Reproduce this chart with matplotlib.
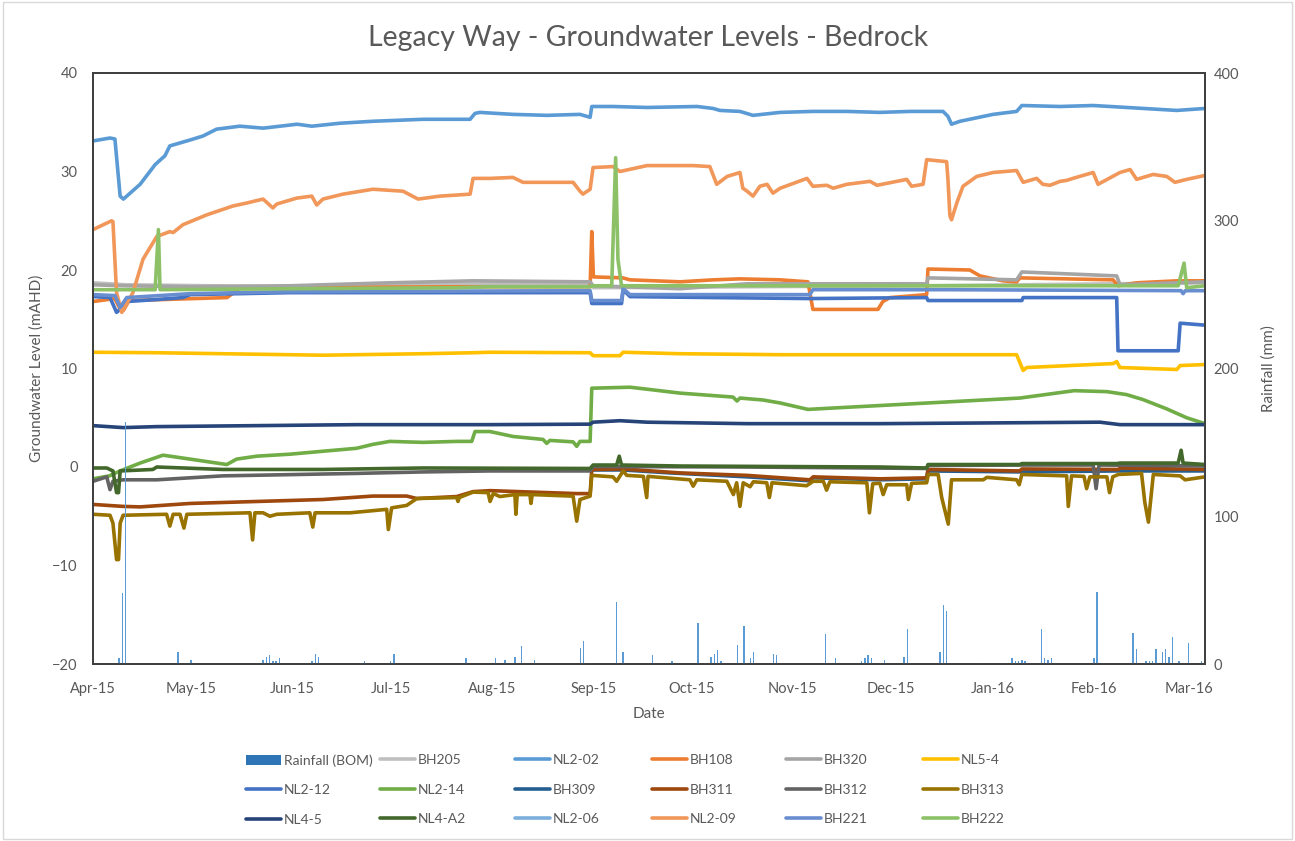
import matplotlib
matplotlib.use('Agg')
import matplotlib.pyplot as plt
import matplotlib.dates as mdates
from matplotlib.patches import Patch, Rectangle
import pandas as pd

# record start; all positions below are days since this date
START = pd.Timestamp('2015-04-01')
END_DAY = 340

# rainfall (BOM), mm
RAIN_DAY = [8, 9, 10, 26, 30, 52, 53, 54, 55, 56, 57, 67, 68, 69, 82, 83, 91, 92, 114,
            123, 126, 129, 131, 135, 149, 150, 151, 160, 162, 171, 177, 185, 187, 189, 190,
            191, 192, 197, 199, 201, 202, 208, 209, 224, 227, 235, 236, 237, 238, 241, 242,
            248, 249, 259, 260, 261, 271, 279, 281, 282, 283, 284, 285, 290, 291, 292, 293,
            306, 307, 318, 319, 322, 323, 324, 325, 327, 328, 329, 330, 332, 335, 339]
RAIN_MM = [4, 48, 164, 8, 3, 3, 5, 6, 2, 2, 4, 2, 7, 5, 1, 2, 2, 7, 4,
           4, 3, 5, 12, 3, 11, 15.6, 1, 42, 8, 6, 2, 28, 1, 5, 7,
           9.5, 2, 13, 26, 4, 8, 6.5, 6, 20, 4, 2, 4, 6, 4, 1, 3,
           5, 24, 8, 40, 36, 1, 1, 4, 2, 2, 3, 2, 24, 4, 3, 4,
           4, 48.5, 21, 10, 2, 2, 2, 10, 8, 10, 5, 18, 2, 14, 2]

# groundwater levels, mAHD
BH205_DAY = [0, 10, 60, 120, 152, 153, 200, 255, 313, 340]
BH205_LVL = [18.7, 18.5, 18.3, 18.6, 18.6, 18.2, 18.3, 18.4, 18.6, 18.7]

NL2_02_DAY = [0, 5.2, 6.7, 8.3, 9.3, 14.4, 19.0, 22.0, 23.5, 29.7, 33.6, 37.8, 44.9, 52.0,
              62.4, 66.9, 75.5, 85.6, 100.9, 115.3, 116.8, 118.3, 128.4, 138.8, 148.9, 152.0,
              152.5, 159.0, 169.4, 184.7, 189.6, 191.7, 197.8, 201.8, 210.1, 220.1, 230.5,
              240.6, 249.8, 259.9, 261.4, 262.5, 265.1, 275.2, 282.4, 284.0, 295.7, 305.8,
              316.1, 331.4, 340]
NL2_02_LVL = [33.1, 33.4, 33.3, 27.5, 27.2, 28.7, 30.7, 31.6, 32.6, 33.2, 33.6, 34.3, 34.6, 34.4,
              34.8, 34.6, 34.9, 35.1, 35.3, 35.3, 35.9, 36.0, 35.8, 35.7, 35.8, 35.5,
              36.6, 36.6, 36.5, 36.6, 36.4, 36.2, 36.1, 35.7, 36.0, 36.1, 36.1,
              36.0, 36.1, 36.1, 35.6, 34.8, 35.1, 35.8, 36.1, 36.7, 36.6, 36.7,
              36.5, 36.2, 36.4]

BH108_DAY = [0, 6.7, 8.3, 9.3, 11, 41, 45, 115, 152.0, 152.5, 153.0, 162, 164.2, 179.5, 189.6,
             197.8, 210.1, 218.6, 220.1, 240.0, 241.5, 243.7, 254.9, 255.3, 268.1, 271.2,
             278.2, 282.4, 283.4, 311.9, 313.4, 319.1, 331.4, 340]
BH108_LVL = [16.8, 17.1, 16.0, 15.9, 16.9, 17.2, 18.2, 18.3, 18.3, 23.9, 19.3, 19.2, 19.0, 18.8, 19.0,
             19.1, 19.0, 18.8, 16.0, 16.0, 16.8, 17.2, 17.5, 20.1, 20.0, 19.4,
             18.9, 18.8, 19.2, 19.0, 18.4, 18.7, 18.9, 18.9]

BH320_DAY = [0, 9.2, 29.7, 60.2, 90.8, 116.2, 152.0, 152.9, 179.5, 200.0, 254.9, 255.3,
             282.4, 284.0, 313.0, 314.0, 340]
BH320_LVL = [18.5, 18.4, 18.3, 18.4, 18.7, 18.9, 18.8, 18.4, 18.1, 18.6, 18.6, 19.2,
             19.0, 19.8, 19.4, 18.5, 18.8]

NL5_4_DAY = [0, 19.6, 39.7, 70.3, 100.9, 116.2, 121.4, 152.0, 152.9, 161.1, 162.1, 179.5,
             210.1, 254.9, 282.4, 284.4, 285.5, 311.9, 313.0, 314.0, 331.4, 332.4, 340]
NL5_4_LVL = [11.65, 11.6, 11.5, 11.35, 11.5, 11.6, 11.65, 11.6, 11.3, 11.3, 11.65, 11.5,
             11.4, 11.4, 11.4, 9.8, 10.1, 10.5, 10.7, 10.1, 9.9, 10.3, 10.4]

NL2_12_DAY = [0, 5.2, 7.2, 8.3, 10.3, 19.5, 27.5, 29.7, 60.2, 152.0, 152.5, 161.6, 162.1,
              164.2, 189.6, 219.2, 254.9, 255.3, 284.0, 284.4, 313.0, 313.4, 331.8, 332.4, 340]
NL2_12_LVL = [17.3, 17.2, 15.7, 16.0, 16.8, 17.0, 17.2, 17.5, 17.7, 17.7, 16.6, 16.6, 18.0,
              17.3, 17.2, 17.1, 17.2, 16.9, 16.9, 17.2, 17.2, 11.8, 11.8, 14.6, 14.4]

NL2_14_DAY = [0, 5, 8.3, 14.4, 21.4, 29.7, 40.9, 43.9, 50.1, 60.2, 70.3, 80.6, 85.6, 90.8,
              100.9, 111.2, 115.8, 116.8, 121.4, 128.4, 137.6, 138.7, 139.7, 146.8, 147.9,
              148.9, 152.0, 152.5, 164.2, 169.4, 179.5, 189.6, 195.7, 196.9, 197.8, 204.9,
              210.1, 218.6, 283.4, 300, 310, 316, 321.0, 328.3, 334.4, 340]
NL2_14_LVL = [-1.2, -0.9, -0.4, 0.4, 1.2, 0.8, 0.25, 0.8, 1.1, 1.3, 1.6, 1.9, 2.3, 2.6,
              2.5, 2.6, 2.6, 3.6, 3.6, 3.1, 2.8, 2.4, 2.7, 2.55, 2.1,
              2.6, 2.6, 8.0, 8.1, 7.9, 7.5, 7.25, 7.1, 6.7, 7.0, 6.8,
              6.5, 5.85, 7.0, 7.75, 7.65, 7.35, 6.85, 5.9, 5.0, 4.4]

BH309_DAY = [152.5, 162, 176.4, 200, 219.2, 220.2, 240.6, 254.9, 255.3, 284, 313.5, 340]
BH309_LVL = [-0.3, -0.3, -0.6, -1.0, -1.4, -1.1, -1.3, -1.2, -0.4, -0.5, -0.4, -0.4]

BH311_DAY = [0, 9.2, 14.4, 29.7, 50.1, 70.3, 85.6, 95.9, 99.0, 111.2, 116.2, 121.4, 147.9,
             152.0, 152.5, 162.1, 179.5, 200.0, 219.2, 220.2, 240.6, 254.9, 255.3, 283.4,
             284.0, 313.5, 314.0, 340]
BH311_LVL = [-3.8, -4.0, -4.05, -3.7, -3.5, -3.3, -2.95, -2.95, -3.2, -3.0, -2.5, -2.4, -2.7,
             -2.7, -0.25, -0.2, -0.6, -0.85, -1.3, -1.0, -1.2, -1.1, -0.25, -0.4,
             -0.2, -0.25, -0.1, -0.25]

BH312_DAY = [0, 4.2, 5.2, 6.1, 9.2, 19.5, 39.7, 80.6, 100.9, 121.4, 152.0, 152.9, 200,
             254.9, 255.3, 284, 305.8, 306.7, 307.6, 340]
BH312_LVL = [-1.45, -1.0, -2.3, -1.45, -1.3, -1.3, -0.9, -0.65, -0.5, -0.4, -0.4, 0.05, 0.0,
             -0.15, 0.15, 0.2, 0.2, -2.2, 0.2, 0.1]

BH313_DAY = [0, 5.2, 6.1, 7.2, 7.8, 8.3, 9.2, 22.5, 23.5, 24.5, 26.6, 27.8, 28.7, 48.0, 48.8,
             49.5, 52.0, 54.1, 56.2, 66.3, 67.2, 67.9, 78.6, 89.8, 90.3, 91.3, 95.9, 99.0,
             111.2, 111.6, 112.0, 116.2, 120.8, 121.4, 122.4, 124.4, 129.0, 129.3, 129.7,
             133.6, 133.9, 134.3, 146.8, 147.9, 148.9, 152.0, 152.5, 159.0, 160.1, 162.1,
             163.2, 168.3, 169.3, 169.7, 182.5, 183.5, 184.6, 193.8, 195.8, 196.8, 197.8,
             198.8, 200.9, 201.9, 206.0, 206.8, 207.6, 218.2, 220.2, 223.3, 224.3, 225.3,
             236.6, 237.4, 238.4, 240.6, 241.6, 242.7, 248.8, 249.3, 250.3, 254.9, 255.4,
             258.4, 259.5, 261.5, 262.5, 272.2, 273.3, 282.4, 283.2, 284.0, 297.7, 298.2,
             299.2, 303.0, 303.8, 304.8, 310.0, 310.8, 311.8, 313.5, 320.6, 321.6, 322.7,
             324.2, 332.4, 333.9, 340]
BH313_LVL = [-4.8, -4.9, -5.7, -9.4, -9.4, -5.7, -4.9, -4.8, -6.0, -4.8, -4.8, -6.2, -4.8, -4.65, -7.4,
             -4.65, -4.65, -5.0, -4.8, -4.65, -6.1, -4.65, -4.65, -4.3, -6.35, -4.15, -3.9, -3.2,
             -3.1, -3.5, -3.1, -2.55, -2.6, -3.5, -2.7, -3.0, -2.8, -4.8, -2.8,
             -2.8, -3.7, -2.8, -2.96, -5.5, -3.3, -2.96, -0.85, -1.0, -1.45, -0.4,
             -0.85, -0.95, -3.1, -0.95, -1.3, -1.95, -1.3, -1.45, -2.8, -1.6, -4.0,
             -1.6, -2.0, -1.5, -1.6, -3.1, -1.6, -1.9, -1.45, -1.45, -2.35, -1.5,
             -1.6, -4.65, -1.7, -1.65, -2.8, -1.8, -1.8, -3.3, -1.65, -1.6, -0.76,
             -0.76, -3.1, -5.8, -1.3, -1.3, -1.05, -1.3, -1.8, -0.76, -0.9, -4.0,
             -0.9, -0.95, -2.2, -1.0, -1.0, -2.6, -1.0, -0.76, -0.65, -3.6, -5.6,
             -0.76, -0.9, -1.3, -1.0]

NL4_5_DAY = [0, 9.2, 19.5, 50.1, 80.6, 121.4, 152.0, 152.9, 161.1, 169.4, 200.0, 240.6,
             285.5, 307.9, 314.0, 340]
NL4_5_LVL = [4.2, 4.0, 4.1, 4.2, 4.3, 4.3, 4.35, 4.55, 4.7, 4.55, 4.4, 4.4,
             4.5, 4.55, 4.3, 4.3]

NL4_A2_DAY = [0, 4.2, 6.1, 7.2, 7.8, 8.3, 18.3, 19.5, 39.7, 70.3, 100.9, 152.0, 152.9, 160.1,
              160.9, 161.6, 179.5, 240.6, 254.9, 255.3, 283.4, 284.0, 313.0, 314.0, 331.8,
              332.7, 333.3, 340]
NL4_A2_LVL = [-0.1, -0.1, -0.4, -2.6, -2.6, -0.4, -0.25, 0.0, -0.25, -0.25, -0.1, -0.15, 0.2, 0.2,
              1.1, 0.2, 0.1, 0.0, -0.1, 0.25, 0.25, 0.35, 0.35, 0.4, 0.4,
              1.7, 0.4, 0.25]

NL2_06_DAY = []
NL2_06_LVL = []

NL2_09_DAY = [0, 5.7, 6.1, 7.2, 8.8, 12.2, 15.3, 19.5, 23.5, 24.5, 27.5, 34.8, 42.8, 47.0, 52.0,
              55.0, 56.2, 62.3, 66.9, 68.4, 70.3, 76.4, 85.6, 94.8, 99.4, 106.1, 115.3, 116.2,
              121.4, 128.4, 131.5, 146.8, 148.9, 149.8, 152.0, 152.9, 159.0, 161.1, 169.4,
              183.5, 188.6, 190.7, 193.9, 197.8, 198.7, 200.0, 201.8, 203.9, 206.1, 207.9,
              210.1, 218.3, 220.1, 224.4, 226.3, 230.5, 237.6, 239.7, 248.8, 250.3, 253.8,
              254.9, 261.0, 261.4, 262.0, 262.5, 264.1, 266.0, 270.2, 275.2, 282.4, 284.4,
              288.5, 290.4, 292.6, 295.7, 297.7, 299.6, 305.8, 307.3, 314.0, 317.1, 319.1,
              324.1, 328.3, 330.8, 334.4, 340]
NL2_09_LVL = [24.1, 25.0, 24.9, 17.7, 15.7, 17.7, 21.1, 23.4, 23.9, 23.8, 24.6, 25.6, 26.5, 26.8, 27.2,
              26.3, 26.7, 27.3, 27.5, 26.6, 27.2, 27.7, 28.2, 28.0, 27.2, 27.5, 27.7, 29.3,
              29.3, 29.4, 28.9, 28.9, 28.0, 27.7, 28.2, 30.4, 30.5, 30.0, 30.6,
              30.6, 30.5, 28.7, 29.5, 29.9, 28.3, 28.0, 27.5, 28.5, 28.7, 27.8,
              28.3, 29.3, 28.5, 28.6, 28.3, 28.7, 29.0, 28.6, 29.2, 28.5, 28.7,
              31.2, 31.0, 29.2, 25.5, 25.1, 26.8, 28.5, 29.5, 29.9, 30.1, 28.9,
              29.3, 28.7, 28.6, 29.0, 29.1, 29.3, 29.9, 28.7, 29.9, 30.2, 29.2,
              29.7, 29.5, 28.9, 29.2, 29.6]

BH221_DAY = [0, 6.7, 8.3, 10.3, 30, 60, 152.0, 152.5, 161.6, 162.1, 164.2, 219.2, 220.1,
             261, 332.7, 333.3, 334, 340]
BH221_LVL = [17.5, 17.4, 16.2, 17.2, 17.6, 17.8, 17.9, 16.9, 16.9, 18.1, 17.5, 17.5, 18.0,
             18.0, 17.9, 17.6, 17.9, 17.9]

BH222_DAY = [0, 19.0, 20.0, 20.5, 60.2, 111.2, 121.4, 152.0, 152.9, 158.6, 159.8, 160.5,
             161.6, 240.6, 331.8, 333.6, 334.4, 340]
BH222_LVL = [18.0, 18.0, 24.1, 18.0, 18.1, 18.2, 18.3, 18.3, 18.4, 18.4, 31.4, 21.1,
             18.4, 18.4, 18.4, 20.7, 18.2, 18.4]

GREY = '#595959'


def toDates(days):
  return START + pd.to_timedelta(pd.Series(days, dtype=float), unit='D')


def main():
  plt.rcParams['font.family'] = ['Lato', 'DejaVu Sans']
  fig = plt.figure(figsize=(12.95, 8.41), dpi=100)
  fig.patches.append(Rectangle((0.002, 0.002), 0.996, 0.996, transform=fig.transFigure,
                               fill=False, edgecolor='#D9D9D9', linewidth=1))
  ax = fig.add_axes([93 / 1295, 1 - 664 / 841, 1112 / 1295, 591 / 841])
  ax2 = ax.twinx()

  series = [
    ('BH205', BH205_DAY, BH205_LVL, '#BFBFBF'),
    ('NL2-02', NL2_02_DAY, NL2_02_LVL, '#5B9BD5'),
    ('BH108', BH108_DAY, BH108_LVL, '#ED7D31'),
    ('BH320', BH320_DAY, BH320_LVL, '#A5A5A5'),
    ('NL5-4', NL5_4_DAY, NL5_4_LVL, '#FFC000'),
    ('NL2-12', NL2_12_DAY, NL2_12_LVL, '#4472C4'),
    ('NL2-14', NL2_14_DAY, NL2_14_LVL, '#70AD47'),
    ('BH309', BH309_DAY, BH309_LVL, '#255E91'),
    ('BH311', BH311_DAY, BH311_LVL, '#9E480E'),
    ('BH312', BH312_DAY, BH312_LVL, '#636363'),
    ('BH313', BH313_DAY, BH313_LVL, '#997300'),
    ('NL4-5', NL4_5_DAY, NL4_5_LVL, '#264478'),
    ('NL4-A2', NL4_A2_DAY, NL4_A2_LVL, '#43682B'),
    ('NL2-06', NL2_06_DAY, NL2_06_LVL, '#7CAFDD'),
    ('NL2-09', NL2_09_DAY, NL2_09_LVL, '#F1975A'),
    ('BH221', BH221_DAY, BH221_LVL, '#698ED0'),
    ('BH222', BH222_DAY, BH222_LVL, '#8CC168'),
  ]

  handles = [Patch(facecolor='#2E75B6', label='Rainfall (BOM)')]
  for name, days, lvl, col in series:
    ln, = ax.plot(toDates(days), lvl, color=col, lw=2.6, label=name,
                  solid_joinstyle='round', solid_capstyle='round')
    handles.append(ln)

  ax2.bar(toDates(RAIN_DAY), RAIN_MM, width=0.45, color='#5B9BD5', linewidth=0)

  ax.set_xlim(START, START + pd.Timedelta(days=END_DAY))
  ax.set_ylim(-20, 40)
  ax2.set_ylim(0, 400)
  ax.set_yticks(range(-20, 41, 10))
  ax2.set_yticks(range(0, 401, 100))
  ax.xaxis.set_major_locator(mdates.MonthLocator())
  ax.xaxis.set_major_formatter(mdates.DateFormatter('%b-%y'))

  for a in (ax, ax2):
    for s in a.spines.values():
      s.set_color('#404040')
      s.set_linewidth(1.3)
  ax.tick_params(axis='y', length=0, pad=11, labelsize=10.5, labelcolor=GREY)
  ax.tick_params(axis='x', length=0, pad=13, labelsize=10.5, labelcolor=GREY)
  ax2.tick_params(axis='y', length=0, pad=6, labelsize=10.5, labelcolor=GREY)

  ax.set_ylabel('Groundwater Level (mAHD)', fontsize=11, color=GREY)
  ax.yaxis.set_label_coords(-0.044, 0.5)
  ax2.set_ylabel('Rainfall (mm)', fontsize=11, color=GREY)
  ax2.yaxis.set_label_coords(1.051, 0.5)
  ax.set_xlabel('Date', fontsize=11, color=GREY)
  ax.xaxis.set_label_coords(0.5, -0.073)

  fig.text(648 / 1295, 1 - 38 / 841, 'Legacy Way - Groundwater Levels - Bedrock',
           ha='center', va='center', fontsize=20.5, color=GREY)

  # six legend columns, three rows each (row-major order like Excel)
  colX = [246, 380, 515, 652, 786, 923]
  for c in range(6):
    hs = [handles[c], handles[c + 6], handles[c + 12]]
    leg = fig.legend(handles=hs, loc='upper left', bbox_to_anchor=(colX[c] / 1295, 1 - 754 / 841),
                     frameon=False, fontsize=10, handlelength=2.5, handleheight=0.7,
                     handletextpad=0.25, labelspacing=1.27, borderpad=0, borderaxespad=0)
    for t in leg.get_texts():
      t.set_color(GREY)

  fig.savefig('out.png', dpi=100)


if __name__ == "__main__":
  main()
